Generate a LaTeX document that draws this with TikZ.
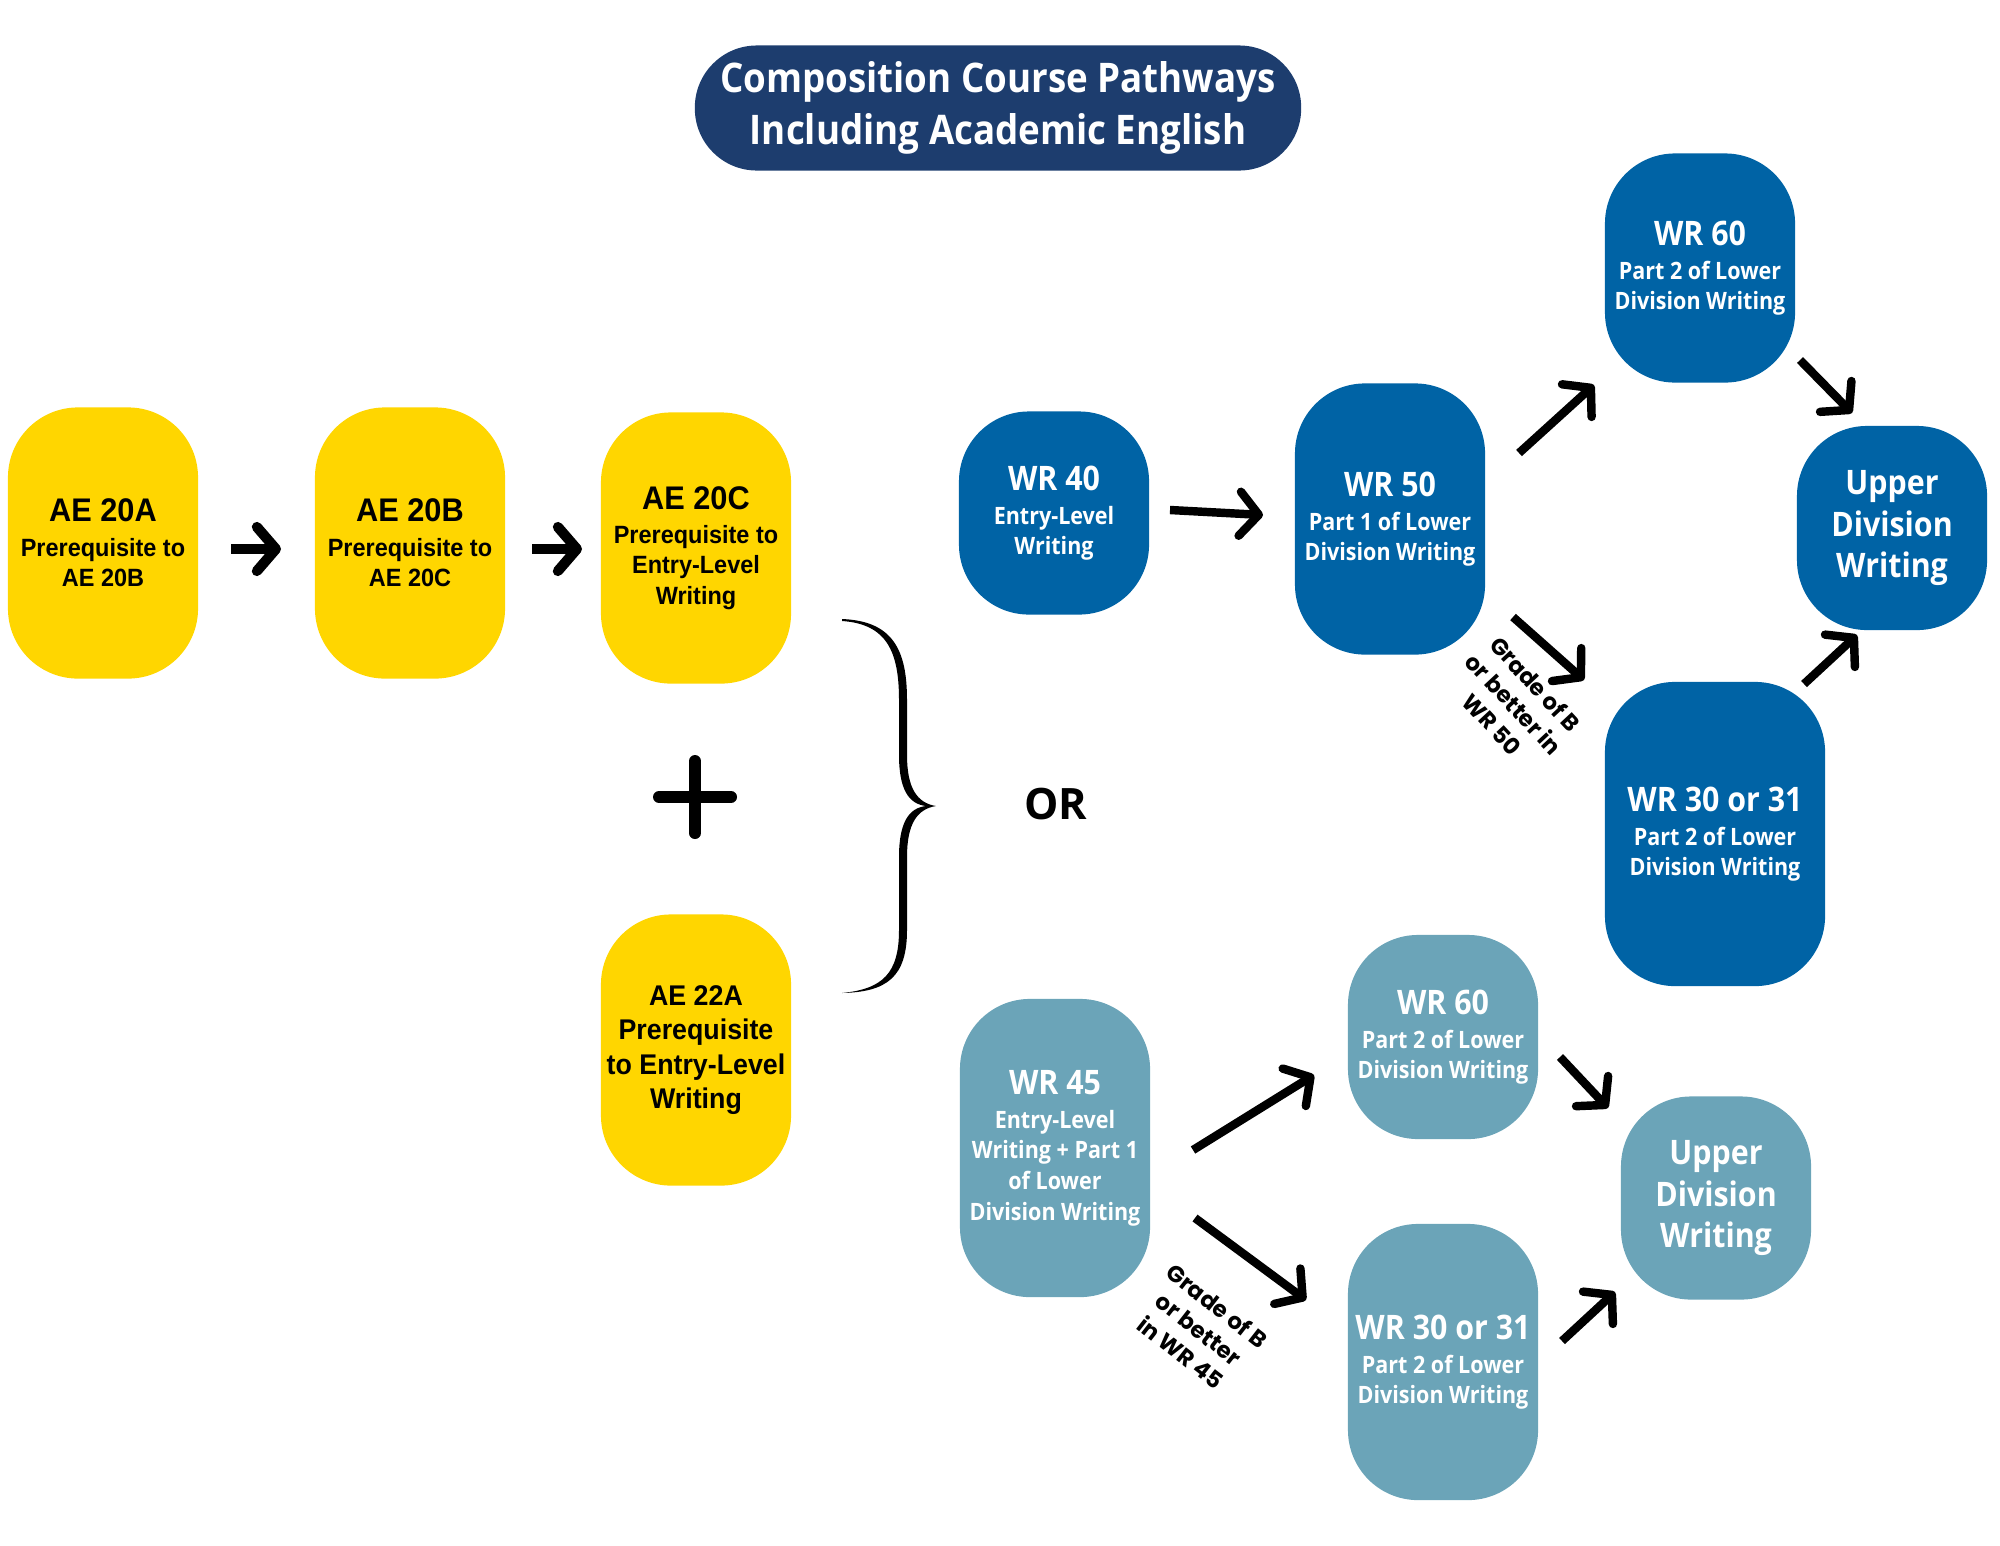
\documentclass[tikz,border=0pt]{standalone}
\usepackage{fontspec}
\setmainfont{Open Sans}[FakeStretch=0.9]
\newfontfamily\aefont{Liberation Sans}[FakeStretch=0.94]
\newfontfamily\gradefont{Poppins}
\newfontfamily\orfont{Open Sans}
\usetikzlibrary{arrows.meta,calc}
\definecolor{aeyellow}{HTML}{FFD600}
\definecolor{wrdark}{HTML}{0063A5}
\definecolor{wrlight}{HTML}{6BA4B8}
\definecolor{navy}{HTML}{1D3D6E}
\newcommand\aehead[1]{{\fontsize{9.3}{11}\selectfont #1}}
\newcommand\wrhead[1]{{\fontsize{9.6}{11}\selectfont #1}}

\begin{document}
\begin{tikzpicture}[x=0.01cm, y=-0.01cm,
    course/.style={rounded corners=0.7cm, minimum width=1.9cm, inner sep=0pt, align=center},
    ae/.style={course, fill=aeyellow, font=\aefont\bfseries\fontsize{7.1}{8.7}\selectfont},
    wr/.style={course, fill=wrdark, text=white, font=\bfseries\fontsize{6.8}{8.7}\selectfont},
    wrl/.style={wr, fill=wrlight},
    upper/.style={font=\bfseries\fontsize{9.6}{11.8}\selectfont},
    go/.style={-{Straight Barb[round, length=0.19cm, width=0.44cm]}, line width=2.4pt},
    grade/.style={font=\gradefont\bfseries\fontsize{6.5}{8.4}\selectfont, align=center}]

\useasboundingbox (0,0) rectangle (2000,1545);

\node[fill=navy, text=white, rounded corners=0.62cm, minimum width=6.06cm, minimum height=1.25cm,
      align=center, font=\bfseries\fontsize{11.6}{14.8}\selectfont] (title) at (998,108)
    {Composition Course Pathways\\Including Academic English};

\node[ae, minimum height=2.71cm] (ae20a) at (103,543) {\aehead{AE 20A}\\[1pt]Prerequisite to\\AE 20B};
\node[ae, minimum height=2.71cm] (ae20b) at (410,543) {\aehead{AE 20B}\\[1pt]Prerequisite to\\AE 20C};
\node[ae, minimum height=2.71cm] (ae20c) at (696,548) {\aehead{AE 20C}\\[1pt]Prerequisite to\\Entry-Level\\Writing};
\node[ae, minimum height=2.71cm, font=\aefont\bfseries\fontsize{8.1}{9.7}\selectfont] (ae22a) at (696,1050)
    {AE 22A\\Prerequisite\\to Entry-Level\\Writing};

\draw[line width=0.12cm, line cap=round] (659,797) -- (731,797) (695,761) -- (695,833);
\fill (842,619) .. controls (893,621) and (907,650) .. (907,700) -- (907,755)
    .. controls (907,788) and (917,803) .. (936,806) .. controls (917,809) and (907,824) .. (907,857)
    -- (907,930) .. controls (907,977) and (887,992) .. (842,993)
    .. controls (883,989) and (899,973) .. (899,930) -- (899,857)
    .. controls (899,822) and (909,808) .. (926,806) .. controls (909,804) and (899,790) .. (899,755)
    -- (899,700) .. controls (899,652) and (887,624) .. (842,621) -- cycle;
\node[font=\orfont\bfseries\fontsize{12.3}{14}\selectfont] (or) at (1056,804) {OR};

\node[wr, minimum height=2.03cm] (wr40) at (1054,513) {\wrhead{WR 40}\\[1pt]Entry-Level\\Writing};
\node[wr, minimum height=2.71cm] (wr50) at (1390,519) {\wrhead{WR 50}\\[1pt]Part 1 of Lower\\Division Writing};
\node[wr, minimum height=2.29cm] (wr60) at (1700,268) {\wrhead{WR 60}\\[1pt]Part 2 of Lower\\Division Writing};
\node[wr, upper, minimum height=2.04cm] (updark) at (1892,528) {Upper\\Division\\Writing};
\node[wr, minimum width=2.2cm, minimum height=3.04cm] (wr30) at (1715,834) {\wrhead{WR 30 or 31}\\[1pt]Part 2 of Lower\\Division Writing};

\node[wrl, minimum height=2.98cm] (wr45) at (1055,1148) {\wrhead{WR 45}\\[1pt]Entry-Level\\Writing + Part 1\\of Lower\\Division Writing};
\node[wrl, minimum height=2.04cm] (wr60l) at (1443,1037) {\wrhead{WR 60}\\[1pt]Part 2 of Lower\\Division Writing};
\node[wrl, minimum height=2.76cm] (wr30l) at (1443,1362) {\wrhead{WR 30 or 31}\\[1pt]Part 2 of Lower\\Division Writing};
\node[wrl, upper, minimum height=2.03cm] (uplight) at (1716,1198) {Upper\\Division\\Writing};

\draw[go, line width=2.9pt] ($(ae20a)+(128,6)$) -- ($(ae20b)+(-129,6)$);
\draw[go, line width=2.9pt] ($(ae20b)+(122,6)$) -- ($(ae20c)+(-114,1)$);
\draw[go] ($(wr40)+(116,-3)$) -- ($(wr50)+(-127,-4)$);
\draw[go] ($(wr50)+(129,-66)$) -- ($(wr60)+(-106,117)$);
\draw[go] ($(wr60)+(100,92)$) -- ($(updark)+(-40,-115)$);
\draw[go] ($(wr50)+(123,98)$) -- ($(wr30)+(-131,-154)$);
\draw[go] ($(wr30)+(89,-150)$) -- ($(updark)+(-35,107)$);
\draw[go] ($(wr45)+(138,2)$) -- ($(wr60l)+(-129,38)$);
\draw[go] ($(wr45)+(140,70)$) -- ($(wr30l)+(-137,-62)$);
\draw[go] ($(wr60l)+(117,20)$) -- ($(uplight)+(-108,-90)$);
\draw[go] ($(wr30l)+(119,-21)$) -- ($(uplight)+(-101,94)$);

\node[grade, rotate=-47] (grade50) at (1514,704) {Grade of B\\or better in\\WR 50};
\node[grade, rotate=-38] (grade45) at (1199,1329) {Grade of B\\or better\\in WR 45};

\end{tikzpicture}
\end{document}
